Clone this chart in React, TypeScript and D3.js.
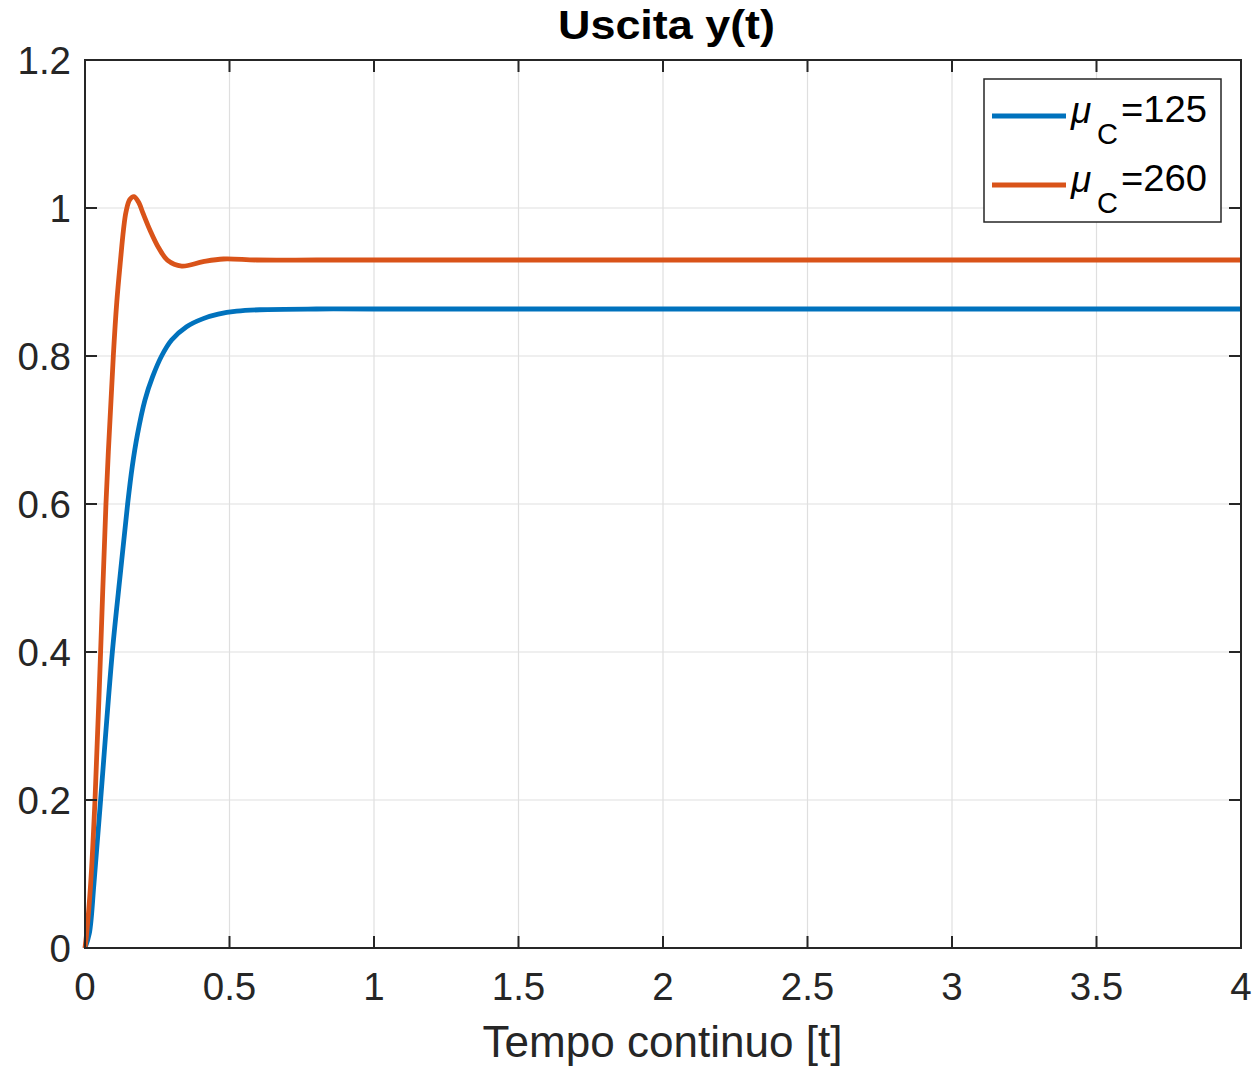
import React from "react";
import * as d3 from "d3";

const blueT = [0, 0.015, 0.031, 0.054, 0.0946, 0.1234, 0.1475, 0.1636, 0.181, 0.2074, 0.234, 0.265, 0.2997, 0.3515, 0.409, 0.461, 0.525, 0.605, 0.8, 1, 2, 3, 4];
const blueY = [0, 0.0198, 0.087, 0.2, 0.4, 0.51, 0.6, 0.6509, 0.693, 0.7405, 0.772, 0.8, 0.8216, 0.8396, 0.8505, 0.8565, 0.8605, 0.8625, 0.8635, 0.8635, 0.8635, 0.8635, 0.8635];

const orangeT = [0, 0.0058, 0.0196, 0.0346, 0.054, 0.0725, 0.098, 0.11, 0.123, 0.133, 0.142, 0.155, 0.1696, 0.185, 0.2017, 0.225, 0.2537, 0.285, 0.3346, 0.409, 0.479, 0.594, 0.8, 1, 2, 3, 4];
const orangeY = [0, 0.0198, 0.087, 0.2, 0.4, 0.6, 0.8, 0.873, 0.93, 0.97, 0.995, 1.0115, 1.0153, 1.008, 0.992, 0.97, 0.947, 0.9297, 0.9216, 0.9275, 0.9311, 0.9297, 0.9297, 0.9297, 0.9297, 0.9297, 0.9297];

const xTicks = [0, 0.5, 1, 1.5, 2, 2.5, 3, 3.5, 4];
const yTicks = [0, 0.2, 0.4, 0.6, 0.8, 1, 1.2];
const seriesNames = ["125", "260"];
const colors = ["#0072BD", "#D95319"];

const W = 1253, H = 1066;
const L = 85, R = 1241, T = 60, B = 948;
const FONT = "'Liberation Sans', Arial, Helvetica, sans-serif";

export default function App() {
  const x = d3.scaleLinear().domain([0, 4]).range([L, R]);
  const y = d3.scaleLinear().domain([0, 1.2]).range([B, T]);
  const line = d3.line<[number, number]>().x(d => x(d[0])).y(d => y(d[1])).curve(d3.curveCatmullRom.alpha(0.5));
  const series = [
    blueT.map((t, i) => [t, blueY[i]] as [number, number]),
    orangeT.map((t, i) => [t, orangeY[i]] as [number, number]),
  ];
  const tickLen = 12;
  const axisColor = "#262626";
  return (
    <svg width={W} height={H} style={{ position: "absolute", left: 0, top: 0, background: "#fff" }}>
      <rect x={0} y={0} width={W} height={H} fill="#fff" />
      {xTicks.map(t => (
        <line key={"gx" + t} x1={x(t)} x2={x(t)} y1={T} y2={B} stroke="#dfdfdf" strokeWidth={1.2} />
      ))}
      {yTicks.map(t => (
        <line key={"gy" + t} x1={L} x2={R} y1={y(t)} y2={y(t)} stroke="#dfdfdf" strokeWidth={1.2} />
      ))}
      <defs>
        <clipPath id="clip"><rect x={L - 3} y={T} width={R - L + 3} height={B - T + 3} /></clipPath>
      </defs>
      {series.map((s, i) => (
        <path key={i} d={line(s) || ""} fill="none" stroke={colors[i]} strokeWidth={4.8} clipPath="url(#clip)" strokeLinejoin="round" />
      ))}
      <rect x={L} y={T} width={R - L} height={B - T} fill="none" stroke={axisColor} strokeWidth={2} />
      {xTicks.map(t => (
        <g key={"tx" + t}>
          <line x1={x(t)} x2={x(t)} y1={B} y2={B - tickLen} stroke={axisColor} strokeWidth={2} />
          <line x1={x(t)} x2={x(t)} y1={T} y2={T + tickLen} stroke={axisColor} strokeWidth={2} />
          <text x={x(t)} y={1000} textAnchor="middle" fontFamily={FONT} fontSize={38.5} fill={axisColor}>{t}</text>
        </g>
      ))}
      {yTicks.map(t => (
        <g key={"ty" + t}>
          <line x1={L} x2={L + tickLen} y1={y(t)} y2={y(t)} stroke={axisColor} strokeWidth={2} />
          <line x1={R} x2={R - tickLen} y1={y(t)} y2={y(t)} stroke={axisColor} strokeWidth={2} />
          <text x={71} y={y(t) + 13.8} textAnchor="end" fontFamily={FONT} fontSize={38.5} fill={axisColor}>{t}</text>
        </g>
      ))}
      <text x={666.5} y={38.5} textAnchor="middle" fontFamily={FONT} fontSize={40} fontWeight="bold" fill="#000" textLength={217} lengthAdjust="spacingAndGlyphs">Uscita y(t)</text>
      <text x={662.5} y={1056.5} textAnchor="middle" fontFamily={FONT} fontSize={44} fill={axisColor} textLength={360} lengthAdjust="spacingAndGlyphs">Tempo continuo [t]</text>
      <rect x={984} y={79} width={237} height={143} fill="#fff" stroke={axisColor} strokeWidth={1.5} />
      {seriesNames.map((n, i) => {
        const ly = 116 + i * 69;
        return (
          <g key={"lg" + i}>
            <line x1={992} x2={1066} y1={ly} y2={ly} stroke={colors[i]} strokeWidth={4.8} />
            <text x={1071} y={ly + 7} fontFamily={FONT} fontSize={37} fontStyle="italic" fill="#000">μ</text>
            <text x={1097} y={ly + 28} fontFamily={FONT} fontSize={29} fill="#000">C</text>
            <text x={1121} y={ly + 6} fontFamily={FONT} fontSize={37} fill="#000" textLength={86} lengthAdjust="spacingAndGlyphs">={n}</text>
          </g>
        );
      })}
    </svg>
  );
}
